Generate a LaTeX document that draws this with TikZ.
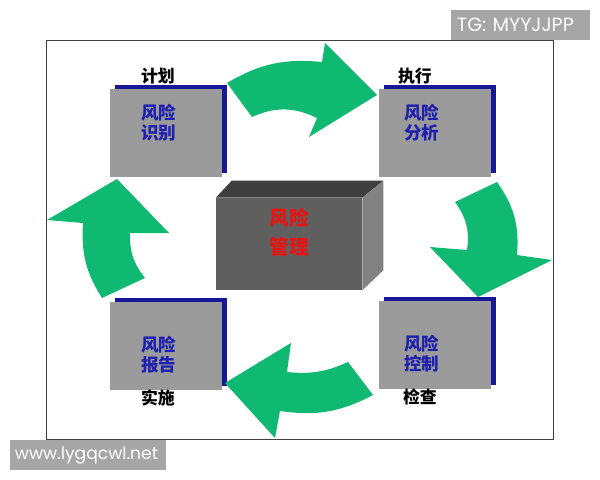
\documentclass[tikz,border=0pt]{standalone}
\usepackage{fontspec}
\newfontfamily\cjk{Noto Sans CJK SC}
\newfontfamily\markfont{Poppins}
\usepackage{tikz}
\usetikzlibrary{calc}
\usetikzlibrary{shadows}
\usepackage{xcolor}

\definecolor{arrowgreen}{RGB}{16,185,114}
\definecolor{boxgray}{RGB}{155,155,155}
\definecolor{edgeblue}{RGB}{24,24,150}
\definecolor{textblue}{RGB}{32,32,175}
\definecolor{cubefront}{RGB}{95,95,95}
\definecolor{cubetop}{RGB}{62,62,62}
\definecolor{cubeside}{RGB}{130,130,130}
\definecolor{cubered}{RGB}{232,20,20}
\definecolor{markgray}{RGB}{166,166,166}

\tikzset{
  riskbox/.style = {rectangle, fill = boxgray, inner sep = 0, minimum width = 2.775cm, minimum height = 2.175cm,
    general shadow = {fill = edgeblue, shadow xshift = 1.25mm, shadow yshift = 1mm}},
  boxtext/.style = {text = textblue, align = center, font = \cjk\bfseries\fontsize{12.5}{14.2}\selectfont},
  steptext/.style = {font = \cjk\bfseries\fontsize{12}{14}\selectfont},
  cubetext/.style = {text = cubered, align = center, font = \cjk\bfseries\fontsize{14}{20.5}\selectfont},
  greenarrow/.style = {fill = arrowgreen},
  watermark/.style = {fill = markgray, text = white, align = left, inner ysep = 0, minimum height = .75cm}
}

\begin{document}
\begin{tikzpicture}[x = 0.025cm, y = -0.025cm]

\useasboundingbox (0,0) rectangle (600,480);
\fill[white] (0,0) rectangle (600,480);
\draw[black!75, line width = .6pt] (46,40) rectangle (553,439);


\node[riskbox, label = {[boxtext, xshift = -1.75mm, yshift = 2.5mm]center:{风险\\识别}},
  label = {[steptext, xshift = -2mm]above:{计划}}] (ident) at (166,133) {};
\node[riskbox, label = {[boxtext, xshift = -3.25mm, yshift = 2.5mm]center:{风险\\分析}},
  label = {[steptext, xshift = -5mm]above:{执行}}] (analyse) at (435,133) {};
\node[riskbox, label = {[boxtext, xshift = -3.25mm, yshift = -2.25mm]center:{风险\\控制}},
  label = {[steptext, xshift = -3.75mm, yshift = 1.25mm]below:{检查}}] (control) at (435,345) {};
\node[riskbox, label = {[boxtext, xshift = -1.75mm, yshift = -2.25mm]center:{风险\\报告}},
  label = {[steptext, xshift = -2mm, yshift = 1.25mm]below:{实施}}] (report) at (166,346) {};


\node[rectangle, fill = cubefront, inner sep = 0, minimum width = 3.65cm, minimum height = 2.3cm,
  label = {[cubetext, yshift = 3mm]center:{风险\\管理}}] (cube) at (289,244) {};
\fill[cubetop] (cube.north west) -- ($(cube.north west) + (16,-17)$) -- ($(cube.north east) + (21,-17)$) -- (cube.north east) -- cycle;
\fill[cubeside] (cube.north east) -- ($(cube.north east) + (21,-17)$) -- ($(cube.south east) + (21,-20)$) -- (cube.south east) -- cycle;


% green turning arrows
\fill[greenarrow] (227,83) to[bend left = 18] (322,62) -- (325,43) -- (377,95) -- (309,137) -- (317,118) to[bend right = 25] (252,117) -- cycle;
\fill[greenarrow] (455,202) to[bend left = 22] (467,250) -- (430,247) -- (478,297) -- (552,260) -- (517,255) to[bend right = 20] (497,182) -- cycle;
\fill[greenarrow] (348,362) to[bend left = 15] (287,372) -- (291,343) -- (225,383) -- (275,438) -- (280,411) to[bend right = 18] (373,395) -- cycle;
\fill[greenarrow] (102,298) to[bend left = 18] (83,223) -- (47,220) -- (117,179) -- (169,233) -- (130,233) to[bend right = 20] (145,278) -- cycle;


\node[watermark, text width = 3.175cm, inner xsep = 1.5mm, font = \markfont\fontsize{13.6}{15}\selectfont] (tg) at (520.5,25) {TG: MYYJJPP};
\node[watermark, text width = 3.65cm, inner xsep = 1.25mm, font = \markfont\fontsize{12.2}{15}\selectfont] (site) at (88,455) {www.lygqcwl.net};

\end{tikzpicture}
\end{document}
